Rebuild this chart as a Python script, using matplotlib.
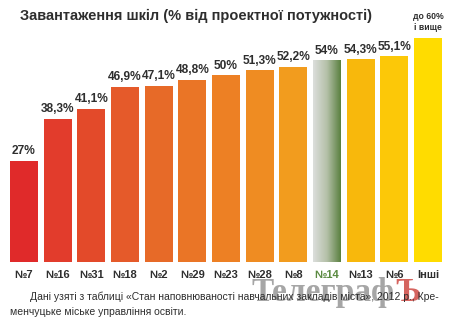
import numpy as np
import matplotlib
matplotlib.use("Agg")
import matplotlib.pyplot as plt
from matplotlib.colors import LinearSegmentedColormap

# data
schools = ["№7", "№16", "№31", "№18", "№2", "№29", "№23", "№28", "№8", "№14", "№13", "№6", "Інші"]
load = [27, 38.3, 41.1, 46.9, 47.1, 48.8, 50, 51.3, 52.2, 54, 54.3, 55.1, 60]
labels = ["27%", "38,3%", "41,1%", "46,9%", "47,1%", "48,8%", "50%", "51,3%", "52,2%",
          "54%", "54,3%", "55,1%", "до 60%\nі вище"]
bar_colors = ["#e02a2a", "#e23c2c", "#e34a2a", "#e55a2a", "#e76a28", "#ea7526", "#ed8024",
              "#ef8c22", "#f29c1e", "#6a8c48", "#f8b80c", "#fcc808", "#ffdc00"]
highlight = "№14"

title = "Завантаження шкіл (% від проектної потужності)"
source_1 = "Дані узяті з таблиці «Стан наповнюваності навчальних закладів міста», 2012 р., Кре-"
source_2 = "менчуцьке міське управління освіти."

plt.rcParams['font.family'] = ['Liberation Sans', 'DejaVu Sans']
dark = "#2e2e2e"

fig = plt.figure(figsize=(4.5, 3.24), dpi=100)
fig.patch.set_facecolor("white")

# watermark (behind everything)
wm_x, wm_y = 395 / 450, 1 - 301 / 324
fig.text(wm_x, wm_y, "Телеграф", fontsize=24, fontweight="bold",
         family=['Liberation Serif', 'DejaVu Serif'], color="#808080", alpha=0.7,
         ha="right", va="baseline", zorder=0)
fig.text(wm_x, wm_y, "Ъ", fontsize=24, fontweight="bold",
         family=['Liberation Serif', 'DejaVu Serif'], color="#c8302a", alpha=0.75,
         ha="left", va="baseline", zorder=0)

ax = fig.add_axes([10 / 450, 62 / 324, 432 / 450, 224 / 324])
ax.patch.set_alpha(0)

w = 0.83
x = np.arange(len(schools))
bars = ax.bar(x, load, width=w, color=bar_colors, zorder=2)

# green gradient on the highlighted bar
hi = schools.index(highlight)
green = LinearSegmentedColormap.from_list("g", ["#dcdedc", "#b4c0a8", "#5a8040"])
grad = np.linspace(0, 1, 100).reshape(1, -1)
bars[hi].set_facecolor("none")
im = ax.imshow(grad, cmap=green, aspect="auto", zorder=3,
               extent=[x[hi] - w / 2, x[hi] + w / 2, 0, load[hi]])
im.set_clip_path(bars[hi])

ax.set_xlim(-w / 2, len(schools) - 1 + w / 2)
ax.set_ylim(0, 60)
for s in ax.spines.values():
    s.set_visible(False)
ax.set_yticks([])
ax.set_xticks(x)
ax.set_xticklabels(schools, fontsize=8, fontweight="bold", color=dark)
ax.tick_params(axis="x", length=0, pad=6)
ax.get_xticklabels()[hi].set_color("#5a8a40")

for i, (v, lab) in enumerate(zip(load, labels)):
    if i == len(load) - 1:
        ax.text(x[i], v + 1.6, lab, ha="center", va="bottom", fontsize=6.2,
                fontweight="bold", color=dark, linespacing=1.3)
    else:
        ax.text(x[i], v + 1.0, lab, ha="center", va="bottom", fontsize=8.6,
                fontweight="bold", color=dark)

fig.text(20 / 450, 1 - 16 / 324, title, fontsize=10.5, fontweight="bold", color=dark,
         ha="left", va="center")

fig.text(30 / 450, 1 - 297 / 324, source_1, fontsize=7.5, color=dark, ha="left", va="center")
fig.text(10 / 450, 1 - 312 / 324, source_2, fontsize=7.5, color=dark, ha="left", va="center")

fig.savefig("out.png", dpi=100, facecolor="white")
